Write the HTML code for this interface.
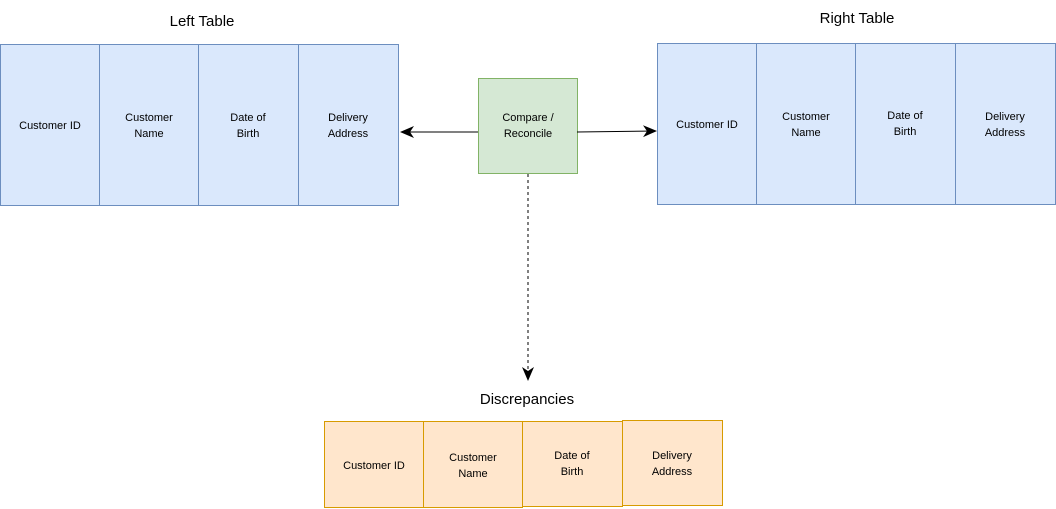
<!DOCTYPE html>
<html><head><meta charset="utf-8"><style>
html,body{margin:0;padding:0;background:#fff;width:1056px;height:509px;overflow:hidden}
svg text{font-family:"Liberation Sans",sans-serif;fill:#000}
</style></head><body>
<svg width="1056" height="509" viewBox="0 0 1056 509" xmlns="http://www.w3.org/2000/svg">
<defs>
<marker id="ah" markerWidth="14" markerHeight="14" refX="13" refY="7" orient="auto" markerUnits="userSpaceOnUse">
<path d="M0,1 L14,7 L0,13 L4,7 Z" fill="#000"/></marker>
</defs>
<g font-size="15" text-anchor="middle">
<text x="202" y="26">Left Table</text>
<text x="857" y="23">Right Table</text>
<text x="527" y="404">Discrepancies</text>
</g>
<g fill="#dae8fc" stroke="#6c8ebf" stroke-width="1">
<rect x="0.5" y="44.5" width="99" height="161"/>
<rect x="99.5" y="44.5" width="99" height="161"/>
<rect x="198.5" y="44.5" width="100" height="161"/>
<rect x="298.5" y="44.5" width="100" height="161"/>
</g>
<g fill="#dae8fc" stroke="#6c8ebf" stroke-width="1">
<rect x="657.5" y="43.5" width="99" height="161"/>
<rect x="756.5" y="43.5" width="99" height="161"/>
<rect x="855.5" y="43.5" width="100" height="161"/>
<rect x="955.5" y="43.5" width="100" height="161"/>
</g>
<g fill="#ffe6cc" stroke="#d79b00" stroke-width="1">
<rect x="324.5" y="421.5" width="99" height="86"/>
<rect x="423.5" y="421.5" width="99" height="86"/>
<rect x="522.5" y="421.5" width="100" height="85"/>
<rect x="622.5" y="420.5" width="100" height="85"/>
</g>
<rect x="478.5" y="78.5" width="99" height="95" fill="#d5e8d4" stroke="#82b366"/>
<line x1="478" y1="132" x2="401" y2="132" stroke="#000" marker-end="url(#ah)"/>
<line x1="577" y1="132" x2="656" y2="131" stroke="#000" marker-end="url(#ah)"/>
<line x1="528" y1="174" x2="528" y2="380" stroke="#000" stroke-dasharray="3,3" marker-end="url(#ah)"/>
<g font-size="11" text-anchor="middle">
<text x="50" y="129">Customer ID</text>
<text x="149" y="121">Customer</text><text x="149" y="137">Name</text>
<text x="248" y="121">Date of</text><text x="248" y="137">Birth</text>
<text x="348" y="121">Delivery</text><text x="348" y="137">Address</text>
<text x="528" y="121">Compare /</text><text x="528" y="137">Reconcile</text>
<text x="707" y="128">Customer ID</text>
<text x="806" y="120">Customer</text><text x="806" y="136">Name</text>
<text x="905" y="119">Date of</text><text x="905" y="135">Birth</text>
<text x="1005" y="120">Delivery</text><text x="1005" y="136">Address</text>
<text x="374" y="469">Customer ID</text>
<text x="473" y="461">Customer</text><text x="473" y="477">Name</text>
<text x="572" y="459">Date of</text><text x="572" y="475">Birth</text>
<text x="672" y="459">Delivery</text><text x="672" y="475">Address</text>
</g>
</svg>
</body></html>
